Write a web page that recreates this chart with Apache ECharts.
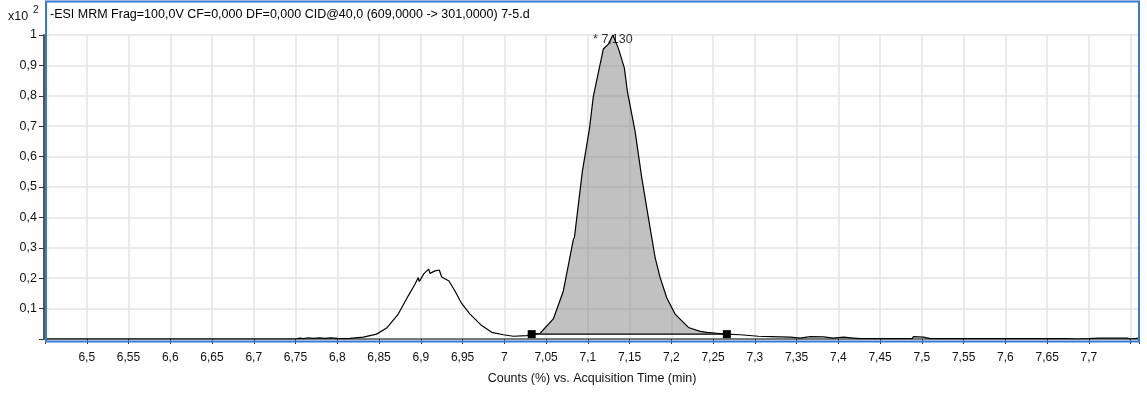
<!DOCTYPE html>
<html>
<head>
<meta charset="utf-8">
<script src="https://cdn.jsdelivr.net/npm/echarts@6/dist/echarts.min.js"></script>
<style>
  html, body { margin: 0; padding: 0; background: #fff; }
  #chart { width: 1147px; height: 394px; }
</style>
</head>
<body>
<div id="chart"></div>
<script>
// MRM trace 609 -> 301, normalised counts (x10^2) against acquisition time (min)
const times = [
  6.451, 6.750, 6.755, 6.760, 6.765, 6.772, 6.778, 6.785, 6.792, 6.800,
  6.810, 6.8151, 6.8311, 6.8471, 6.8591, 6.8730, 6.8850, 6.8930, 6.8970, 6.8982,
  6.9038, 6.9094, 6.9110, 6.9170, 6.9221, 6.9250, 6.9337, 6.9409, 6.9489, 6.9589,
  6.9729, 6.9849, 6.9988, 7.0108, 7.0268, 7.0328, 7.0428, 7.0587, 7.0707, 7.0827,
  7.0840, 7.0935, 7.1018, 7.1066, 7.1186, 7.1246, 7.1300, 7.1366, 7.1438, 7.1474,
  7.1566, 7.1646, 7.1725, 7.1806, 7.1866, 7.1946, 7.2045, 7.2205, 7.2345, 7.2425,
  7.2545, 7.2665, 7.2824, 7.3043, 7.3060, 7.3183, 7.3423, 7.3543, 7.3663, 7.3822,
  7.3942, 7.4062, 7.4181, 7.4262, 7.4881, 7.4900, 7.5020, 7.5101, 7.6738, 7.6858,
  7.6997, 7.7117, 7.7457, 7.7497, 7.7597
];
const counts = [
  0.000, 0.000, 0.003, 0.001, 0.004, 0.002, 0.004, 0.002, 0.004, 0.002,
  0.001, 0.002, 0.006, 0.016, 0.036, 0.082, 0.142, 0.180, 0.202, 0.189,
  0.215, 0.230, 0.216, 0.224, 0.227, 0.204, 0.191, 0.158, 0.117, 0.082,
  0.044, 0.022, 0.014, 0.009, 0.011, 0.016, 0.019, 0.066, 0.158, 0.328,
  0.335, 0.552, 0.689, 0.798, 0.954, 0.970, 1.000, 0.956, 0.891, 0.814,
  0.683, 0.530, 0.399, 0.268, 0.202, 0.135, 0.082, 0.038, 0.025, 0.022,
  0.019, 0.016, 0.014, 0.009, 0.011, 0.008, 0.006, 0.003, 0.008, 0.007,
  0.003, 0.006, 0.003, 0.001, 0.001, 0.008, 0.006, 0.001, 0.001, 0.000,
  0.001, 0.003, 0.003, 0.000, 0.003
];

// integrated peak: start / end of the baseline and its level, apex time
const integStart = 7.0328;
const integEnd = 7.2665;
const integBase = 0.016;
const apexTime = 7.130;
const apexCount = 1.0;

const titleText = '-ESI MRM Frag=100,0V CF=0,000 DF=0,000 CID@40,0 (609,0000 -> 301,0000) 7-5.d';
const xTitle = 'Counts (%) vs. Acquisition Time (min)';

const FONT = '"Liberation Sans", Arial, Helvetica, sans-serif';

const trace = times.map((t, i) => [t, counts[i]]);
const peakPts = trace.filter(p => p[0] >= integStart - 1e-9 && p[0] <= integEnd + 1e-9);
const fillPts = peakPts.concat([[integEnd, integBase], [integStart, integBase]]);

function comma(v, digits) {
  let s = v.toFixed(digits);
  if (s.indexOf('.') >= 0) s = s.replace(/0+$/, '').replace(/\.$/, '');
  return s.replace('.', ',');
}

const chart = echarts.init(document.getElementById('chart'), null, { renderer: 'canvas' });

chart.setOption({
  animation: false,
  backgroundColor: '#ffffff',
  textStyle: { fontFamily: FONT },
  grid: { left: 45, top: 35, width: 1094, height: 304, containLabel: false },
  xAxis: {
    type: 'value',
    min: 6.45,
    max: 7.76,
    interval: 0.05,
    offset: 4,
    name: xTitle,
    nameLocation: 'middle',
    nameGap: 29,
    nameTextStyle: { fontFamily: FONT, fontSize: 12.5, color: '#111' },
    axisLine: { show: true, lineStyle: { color: '#555', width: 1.5 } },
    axisTick: { show: true, length: 5, lineStyle: { color: '#333', width: 1 } },
    axisLabel: {
      margin: 9,
      fontFamily: FONT, fontSize: 12, color: '#111',
      showMinLabel: true, showMaxLabel: true,
      formatter: v => (v < 6.499 || v > 7.701) ? '' : comma(v, 2)
    },
    splitLine: { show: true, lineStyle: { color: '#e3e3e3', width: 1.5 } }
  },
  yAxis: {
    type: 'value',
    min: 0,
    max: 1,
    interval: 0.1,
    offset: 1,
    axisLine: { show: true, lineStyle: { color: '#555', width: 2 } },
    axisTick: { show: true, length: 5, lineStyle: { color: '#333', width: 1 } },
    axisLabel: {
      margin: 7,
      fontFamily: FONT, fontSize: 12.5, color: '#111',
      formatter: v => v < 0.05 ? '' : comma(v, 1)
    },
    splitLine: { show: true, lineStyle: { color: '#e3e3e3', width: 1.5 } }
  },
  series: [
    {
      // shaded integrated area between the trace and the peak baseline
      type: 'custom',
      coordinateSystem: 'cartesian2d',
      silent: true,
      z: 1,
      data: [[integStart, integBase]],
      renderItem: (params, api) => ({
        type: 'polygon',
        shape: { points: fillPts.map(p => api.coord(p)) },
        style: { fill: 'rgba(125,125,125,0.48)', stroke: null }
      })
    },
    {
      type: 'line',
      data: trace,
      showSymbol: false,
      symbol: 'none',
      z: 3,
      silent: true,
      lineStyle: { color: '#000', width: 1.2 }
    },
    {
      // peak baseline with its two end markers
      type: 'line',
      data: [[integStart, integBase], [integEnd, integBase]],
      symbol: 'rect',
      symbolSize: 8,
      showSymbol: true,
      z: 4,
      silent: true,
      lineStyle: { color: '#000', width: 1.2 },
      itemStyle: { color: '#000' }
    },
    {
      // apex retention time label
      type: 'scatter',
      data: [[apexTime, apexCount]],
      symbolSize: 1,
      z: 5,
      silent: true,
      itemStyle: { color: 'rgba(0,0,0,0)' },
      label: {
        show: true,
        position: 'inside',
        offset: [0, 5],
        fontFamily: FONT,
        fontSize: 12.5,
        color: '#000',
        formatter: () => '* ' + comma(apexTime, 3).padEnd(5, '0')
      }
    }
  ],
  graphic: [
    {
      type: 'rect',
      z: 100,
      silent: true,
      shape: { x: 46, y: 1.5, width: 1093, height: 340 },
      style: { fill: null, stroke: '#3a78d8', lineWidth: 2 }
    },
    {
      type: 'text',
      z: 101,
      left: 50,
      top: 8,
      silent: true,
      style: { text: titleText, font: '12.5px ' + FONT, fill: '#000' }
    },
    {
      type: 'text',
      z: 101,
      left: 8,
      top: 10,
      silent: true,
      style: { text: 'x10', font: '12.5px ' + FONT, fill: '#111' }
    },
    {
      type: 'text',
      z: 101,
      left: 33,
      top: 5,
      silent: true,
      style: { text: '2', font: '10px ' + FONT, fill: '#111' }
    }
  ]
});
</script>
</body>
</html>
